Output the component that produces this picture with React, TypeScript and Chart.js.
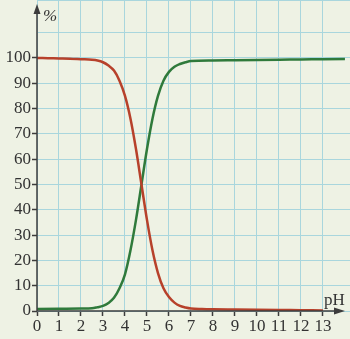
import React, { useEffect, useRef } from "react";
import { Chart, registerables } from "chart.js";

Chart.register(...registerables);

const phAcid = [0, 0.5, 1, 1.5, 2, 2.5, 2.75, 3, 3.25, 3.5, 3.75, 4, 4.25, 4.5, 4.75, 5, 5.25, 5.5, 5.75, 6, 6.25, 6.5, 6.75, 7, 7.5, 8, 9, 10, 11, 12, 13];
const acidValues = [100, 99.9, 99.8, 99.7, 99.5, 99.3, 99, 98.3, 97, 95, 91, 85, 76, 64, 50, 36, 24, 15, 9, 5.5, 3.3, 2, 1.4, 1.0, 0.8, 0.7, 0.6, 0.5, 0.4, 0.3, 0.2];

const phBase = [0, 1, 2, 2.5, 2.75, 3, 3.25, 3.5, 3.75, 4, 4.25, 4.5, 4.75, 5, 5.25, 5.5, 5.75, 6, 6.25, 6.5, 6.75, 7, 8, 9, 10, 11, 12, 13, 14];
const baseValues = [0.8, 0.9, 1.0, 1.1, 1.5, 2, 3.2, 5.2, 9, 14.5, 24, 36, 50, 64, 76, 85, 91, 94.5, 96.5, 97.6, 98.3, 98.8, 99, 99.1, 99.2, 99.3, 99.4, 99.5, 99.6];

const xTickLabels = ["0", "1", "2", "3", "4", "5", "6", "7", "8", "9", "10", "11", "12", "13"];
const yTickLabels = ["0", "10", "20", "30", "40", "50", "60", "70", "80", "90", "100"];

const X_MAX = 14.23;
const Y_MAX = 122.9;
const BG = "#eef2e4";
const GRID = "#a9d6dd";
const AXIS = "#3c3c3c";
const FONT = "'Liberation Serif', 'DejaVu Serif', serif";

const decorPlugin = {
  id: "decor",
  beforeDraw(chart: any) {
    const ctx = chart.ctx;
    ctx.save();
    ctx.fillStyle = BG;
    ctx.fillRect(0, 0, chart.width, chart.height);
    ctx.restore();
  },
  afterDraw(chart: any) {
    const ctx = chart.ctx;
    const xs = chart.scales.x;
    const ys = chart.scales.y;
    const x0 = xs.getPixelForValue(0);
    const y0 = ys.getPixelForValue(0);
    ctx.save();
    ctx.fillStyle = AXIS;
    ctx.strokeStyle = AXIS;
    ctx.lineWidth = 1.5;
    // y axis
    ctx.beginPath();
    ctx.moveTo(x0, y0);
    ctx.lineTo(x0, 10);
    ctx.stroke();
    ctx.beginPath();
    ctx.moveTo(x0, 4);
    ctx.lineTo(x0 - 3.5, 14);
    ctx.lineTo(x0 + 3.5, 14);
    ctx.closePath();
    ctx.fill();
    // x axis
    ctx.beginPath();
    ctx.moveTo(x0, y0);
    ctx.lineTo(338, y0);
    ctx.stroke();
    ctx.beginPath();
    ctx.moveTo(345, y0);
    ctx.lineTo(334, y0 - 3.5);
    ctx.lineTo(334, y0 + 3.5);
    ctx.closePath();
    ctx.fill();
    ctx.font = "17px " + FONT;
    ctx.fillStyle = "#333";
    ctx.textAlign = "left";
    ctx.textBaseline = "alphabetic";
    ctx.fillText("pH", 324, y0 - 6);
    ctx.font = "italic 17px " + FONT;
    ctx.fillText("%", 43, 21);
    ctx.restore();
  },
};

export default function App() {
  const ref = useRef<HTMLCanvasElement | null>(null);
  useEffect(() => {
    if (!ref.current) return;
    const chart = new Chart(ref.current, {
      type: "line",
      data: {
        datasets: [
          {
            label: "acid",
            data: phAcid.map((x, i) => ({ x, y: acidValues[i] })),
            borderColor: "#b7412b",
            borderWidth: 2.5,
            pointRadius: 0,
            cubicInterpolationMode: "monotone",
          },
          {
            label: "base",
            data: phBase.map((x, i) => ({ x, y: baseValues[i] })),
            borderColor: "#2f7a3b",
            borderWidth: 2.5,
            pointRadius: 0,
            cubicInterpolationMode: "monotone",
          },
        ],
      },
      options: {
        animation: false,
        responsive: false,
        maintainAspectRatio: false,
        layout: { padding: 0 },
        plugins: { legend: { display: false }, tooltip: { enabled: false } },
        scales: {
          x: {
            type: "linear",
            min: 0,
            max: X_MAX,
            afterFit: (s: any) => {
              s.height = 28;
              s.paddingLeft = 0;
              s.paddingRight = 0;
            },
            border: { display: false },
            grid: {
              color: GRID,
              lineWidth: 1,
              drawTicks: true,
              tickLength: 5,
              tickColor: (c: any) => (c.tick && c.tick.value <= 13 ? AXIS : "rgba(0,0,0,0)"),
              tickWidth: 1.5,
            },
            ticks: {
              stepSize: 1,
              autoSkip: false,
              maxRotation: 0,
              padding: 0,
              color: "#333",
              font: { family: FONT, size: 17 },
              callback: (v: any) => {
                const i = Math.round(Number(v));
                return i >= 0 && i < xTickLabels.length && Math.abs(Number(v) - i) < 1e-6 ? xTickLabels[i] : "";
              },
            },
          },
          y: {
            type: "linear",
            min: 0,
            max: Y_MAX,
            afterFit: (s: any) => {
              s.width = 37;
              s.paddingTop = 0;
              s.paddingBottom = 0;
            },
            border: { display: false },
            grid: {
              color: GRID,
              lineWidth: 1,
              drawTicks: true,
              tickLength: 5,
              tickColor: (c: any) => (c.tick && c.tick.value <= 100 ? AXIS : "rgba(0,0,0,0)"),
              tickWidth: 1.5,
            },
            ticks: {
              stepSize: 10,
              autoSkip: false,
              padding: 1,
              color: "#333",
              font: { family: FONT, size: 17 },
              callback: (v: any) => {
                const i = Math.round(Number(v) / 10);
                return i >= 0 && i < yTickLabels.length ? yTickLabels[i] : "";
              },
            },
          },
        },
      },
      plugins: [decorPlugin],
    } as any);
    return () => chart.destroy();
  }, []);
  return (
    <div style={{ position: "fixed", left: 0, top: 0, width: 350, height: 339, background: BG }}>
      <canvas ref={ref} width={350} height={339} style={{ display: "block", width: 350, height: 339 }} />
    </div>
  );
}
